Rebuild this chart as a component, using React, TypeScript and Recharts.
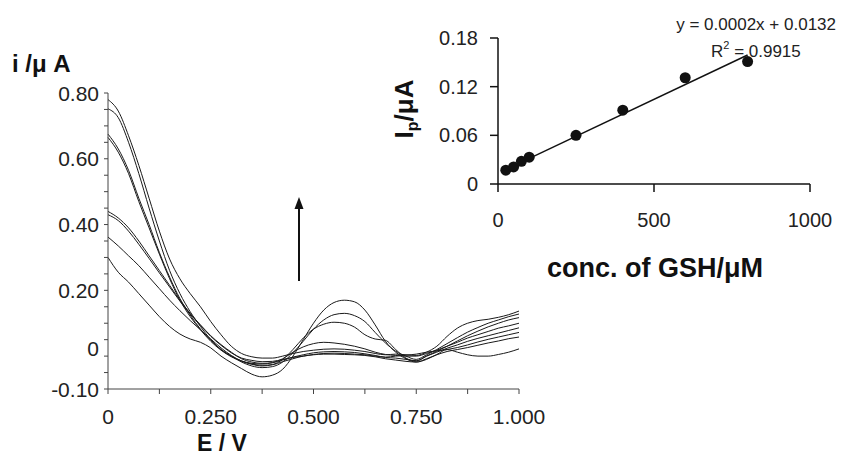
import React from "react"
import { Line, LineChart, Scatter, ScatterChart, XAxis, YAxis } from "recharts"

const FONT = "'Liberation Sans', Arial, Helvetica, sans-serif"

// potential (V), one sample every 0.025 V
const potential = [
  0, 0.025, 0.05, 0.075, 0.1, 0.125, 0.15, 0.175, 0.2, 0.225, 0.25, 0.275, 0.3, 0.325, 0.35, 0.375, 0.4,
  0.425, 0.45, 0.475, 0.5, 0.525, 0.55, 0.575, 0.6, 0.625, 0.65, 0.675, 0.7, 0.725, 0.75, 0.775, 0.8,
  0.825, 0.85, 0.875, 0.9, 0.925, 0.95, 0.975, 1.0,
]

// current (µA) of each voltammogram
const curveA = [
  0.78, 0.745, 0.67, 0.58, 0.48, 0.38, 0.295, 0.235, 0.19, 0.15, 0.105, 0.065, 0.03, 0.008, -0.002, -0.006, -0.006,
  0.0, 0.008, 0.014, 0.018, 0.021, 0.022, 0.021, 0.018, 0.014, 0.008, 0.004, 0.006, 0.004, 0.002, 0.012, 0.03,
  0.06, 0.085, 0.1, 0.108, 0.112, 0.118, 0.126, 0.137,
]
const curveB = [
  0.752, 0.725, 0.65, 0.555, 0.45, 0.35, 0.26, 0.19, 0.135, 0.09, 0.05, 0.02, 0.0, -0.018, -0.03, -0.035, -0.032,
  -0.018, 0.01, 0.045, 0.082, 0.11, 0.126, 0.13, 0.123, 0.105, 0.072, 0.04, 0.015, 0.0, -0.01, 0.004, 0.02,
  0.038, 0.056, 0.073, 0.087, 0.1, 0.11, 0.12, 0.128,
]
const curveC = [
  0.675, 0.63, 0.565, 0.48, 0.4, 0.315, 0.24, 0.175, 0.125, 0.082, 0.048, 0.02, 0.0, -0.015, -0.025, -0.03, -0.026,
  -0.01, 0.02, 0.055, 0.082, 0.097, 0.103, 0.1, 0.088, 0.065, 0.052, 0.048, 0.02, -0.006, -0.015, 0.0, 0.015,
  0.03, 0.046, 0.062, 0.076, 0.089, 0.1, 0.11, 0.117,
]
const curveD = [
  0.665, 0.62, 0.555, 0.47, 0.39, 0.31, 0.235, 0.17, 0.12, 0.08, 0.045, 0.018, -0.002, -0.015, -0.022, -0.024, -0.02,
  -0.008, 0.012, 0.028, 0.038, 0.042, 0.04, 0.036, 0.03, 0.022, 0.012, 0.005, 0.002, 0.0, 0.0, 0.008, 0.018,
  0.03, 0.042, 0.055, 0.065, 0.075, 0.085, 0.092, 0.1,
]
const curveE = [
  0.44, 0.42, 0.39, 0.35, 0.305, 0.26, 0.215, 0.17, 0.13, 0.095, 0.062, 0.035, 0.012, -0.008, -0.018, -0.022, -0.02,
  -0.012, -0.003, 0.004, 0.01, 0.013, 0.014, 0.013, 0.011, 0.007, 0.002, -0.004, -0.006, -0.01, -0.014, 0.0, 0.012,
  0.024, 0.034, 0.045, 0.054, 0.062, 0.07, 0.078, 0.086,
]
const curveF = [
  0.43, 0.412, 0.38, 0.34, 0.297, 0.253, 0.21, 0.167, 0.128, 0.093, 0.06, 0.033, 0.01, -0.006, -0.013, -0.017,
  -0.016, -0.01, -0.004, 0.0, 0.005, 0.008, 0.009, 0.008, 0.006, 0.004, 0.0, -0.003, 0.0, 0.003, 0.006, 0.012,
  0.016, 0.02, 0.026, 0.034, 0.043, 0.051, 0.058, 0.065, 0.072,
]
const curveG = [
  0.362, 0.335, 0.305, 0.275, 0.24, 0.205, 0.17, 0.138, 0.108, 0.08, 0.052, 0.025, 0.002, -0.015, -0.024, -0.028,
  -0.026, -0.017, -0.008, 0.0, 0.004, 0.006, 0.006, 0.005, 0.004, 0.002, -0.002, -0.008, -0.012, -0.016, -0.018,
  -0.008, 0.004, 0.014, 0.02, 0.026, 0.033, 0.04, 0.046, 0.053, 0.058,
]
const curveH = [
  0.3, 0.255, 0.225, 0.19, 0.155, 0.12, 0.09, 0.067, 0.052, 0.042, 0.025, 0.0, -0.02, -0.038, -0.055, -0.063, -0.058,
  -0.04, 0.0, 0.05, 0.1, 0.14, 0.163, 0.17, 0.165, 0.14, 0.095, 0.045, 0.012, -0.008, -0.018, -0.01, 0.005,
  0.02, 0.012, 0.004, 0.0, 0.0, 0.005, 0.012, 0.022,
]

const curves = { a: curveA, b: curveB, c: curveC, d: curveD, e: curveE, f: curveF, g: curveG, h: curveH }

const xTicks = [0, 0.125, 0.25, 0.375, 0.5, 0.625, 0.75, 0.875, 1]
const xMajor = [0, 0.25, 0.5, 0.75, 1]
const xLabels = ["0", "0.250", "0.500", "0.750", "1.000"]
const yTicks = [
  -0.1, -0.05, 0, 0.05, 0.1, 0.15, 0.2, 0.25, 0.3, 0.35, 0.4, 0.45, 0.5, 0.55, 0.6, 0.65, 0.7, 0.75, 0.8,
]
const yMajor = [0.8, 0.6, 0.4, 0.2, 0, -0.1]
const yLabels = ["0.80", "0.60", "0.40", "0.20", "0", "-0.10"]

// inset: peak current vs GSH concentration
const concentration = [25, 50, 75, 100, 250, 400, 600, 800]
const peakCurrent = [0.017, 0.021, 0.028, 0.033, 0.06, 0.091, 0.131, 0.151]
const trendX = [25, 800]
const trendY = [0.0178, 0.159]
const insetXTicks = [0, 500, 1000]
const insetYTicks = [0, 0.06, 0.12, 0.18]

const rows = potential.map((E, i) => {
  const r: Record<string, number> = { E }
  Object.entries(curves).forEach(([k, arr]) => (r[k] = arr[i]))
  return r
})
const points = concentration.map((x, i) => ({ x, y: peakCurrent[i] }))
const trend = trendX.map((x, i) => ({ x, y: trendY[i] }))

const find = (list: number[], v: number) => list.findIndex((m) => Math.abs(m - v) < 1e-6)

const MainXTick = (props: any) => {
  const { x, y, payload } = props
  const i = find(xMajor, payload.value)
  if (i < 0) return <g />
  return (
    <text x={x} y={y} dy="0.71em" textAnchor="middle" fontSize={21} fontFamily={FONT} fill="#222">
      {xLabels[i]}
    </text>
  )
}

const MainYTick = (props: any) => {
  const { x, y, payload } = props
  const i = find(yMajor, payload.value)
  if (i < 0) return <g />
  const shift = payload.value === 0 ? -8 : 0
  return (
    <text x={x} y={y + shift} dy="0.36em" textAnchor="end" fontSize={21} fontFamily={FONT} fill="#222">
      {yLabels[i]}
    </text>
  )
}

const Dot = (p: any) => <circle cx={p.cx} cy={p.cy} r={5.5} fill="#111" />

export default function App() {
  return (
    <div style={{ position: "absolute", left: 0, top: 0, width: 843, height: 465, background: "#fff" }}>
      <div style={{ position: "absolute", left: 0, top: 0 }}>
        <LineChart width={560} height={465} data={rows} margin={{ top: 93, right: 41, bottom: 46, left: 48 }}>
          <XAxis
            dataKey="E"
            type="number"
            domain={[0, 1]}
            ticks={xTicks}
            interval={0}
            height={30}
            tickSize={5}
            tickMargin={15}
            stroke="#444"
            tick={MainXTick}
          />
          <YAxis
            type="number"
            domain={[-0.1, 0.8]}
            ticks={yTicks}
            interval={0}
            width={60}
            tickSize={4}
            tickMargin={5}
            stroke="#444"
            tick={MainYTick}
          />
          {Object.keys(curves).map((k) => (
            <Line
              key={k}
              dataKey={k}
              type="monotone"
              stroke="#1a1a1a"
              strokeWidth={1}
              dot={false}
              isAnimationActive={false}
            />
          ))}
        </LineChart>
      </div>

      <div style={{ position: "absolute", left: 360, top: 0 }}>
        <ScatterChart width={483} height={290} margin={{ top: 38, right: 33, bottom: 56, left: 78 }}>
          <XAxis
            dataKey="x"
            type="number"
            domain={[0, 1000]}
            ticks={insetXTicks}
            interval={0}
            height={50}
            tickSize={8}
            tickMargin={21}
            stroke="#111"
            strokeWidth={1.5}
            tick={{ fill: "#222", fontSize: 20, fontFamily: FONT }}
          />
          <YAxis
            dataKey="y"
            type="number"
            domain={[0, 0.18]}
            ticks={insetYTicks}
            interval={0}
            width={60}
            tickSize={8}
            tickMargin={12}
            stroke="#111"
            strokeWidth={1.5}
            tick={{ fill: "#222", fontSize: 20, fontFamily: FONT }}
            tickFormatter={(v: number) => (v === 0 ? "0" : v.toFixed(2))}
          />
          <Scatter
            data={trend}
            line={{ stroke: "#111", strokeWidth: 1.5 }}
            shape={() => <g />}
            isAnimationActive={false}
          />
          <Scatter data={points} shape={Dot} isAnimationActive={false} />
        </ScatterChart>
      </div>

      <svg
        width={843}
        height={465}
        style={{ position: "absolute", left: 0, top: 0, pointerEvents: "none" }}
        fontFamily={FONT}
      >
        <text x={12} y={72} fontSize={24} fontWeight="bold" fill="#111">
          i /μ A
        </text>
        <text x={222} y={451} fontSize={23} fontWeight="bold" fill="#111" textAnchor="middle">
          E / V
        </text>
        <text x={655} y={277} fontSize={27} fontWeight="bold" fill="#111" textAnchor="middle">
          conc. of GSH/μM
        </text>
        <text
          x={413}
          y={109}
          fontSize={26}
          fontWeight="bold"
          fill="#111"
          textAnchor="middle"
          transform="rotate(-90 413 109)"
        >
          I<tspan fontSize={16} dy={5}>p</tspan>
          <tspan dy={-5}>/μA</tspan>
        </text>
        <text x={836} y={30} fontSize={17} fill="#222" textAnchor="end">
          y = 0.0002x + 0.0132
        </text>
        <text x={711} y={57} fontSize={17} fill="#222">
          R<tspan fontSize={11} dy={-8}>2</tspan>
          <tspan dy={8}> = 0.9915</tspan>
        </text>
        <line x1={299} y1={281} x2={299} y2={206} stroke="#111" strokeWidth={2} />
        <polygon points="299,197 294.5,209 303.5,209" fill="#111" />
      </svg>
    </div>
  )
}
